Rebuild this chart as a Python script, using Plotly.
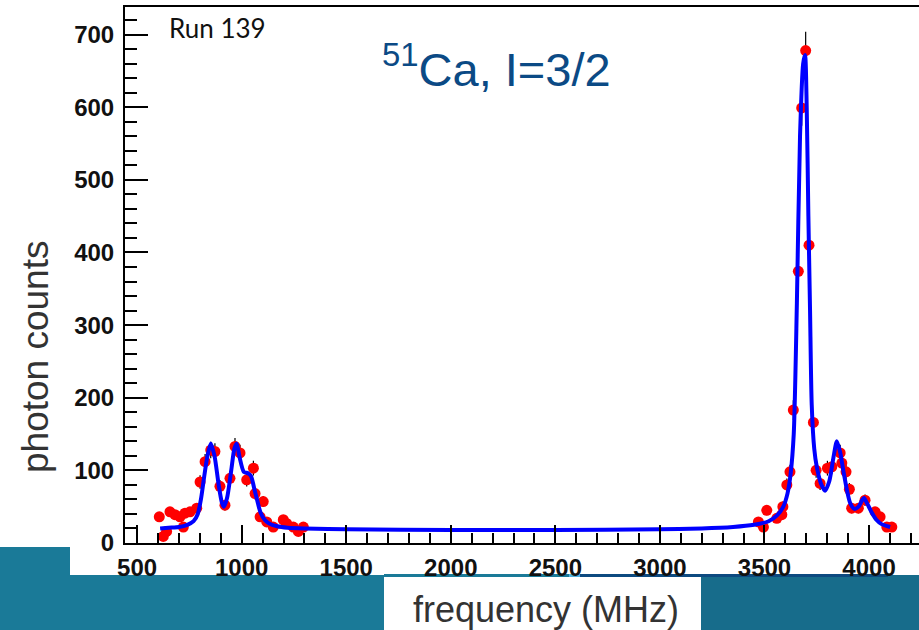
import numpy as np
import plotly.graph_objects as go

# measured data points (frequency MHz, photon counts)
freq_pts = [606, 625, 641, 657, 681, 705, 721, 729, 753, 785, 801, 825, 852, 872, 896, 920,
            944, 968, 992, 1024, 1056, 1064, 1088, 1103, 1120, 1151, 1199, 1215, 1247, 1271, 1295,
            3471, 3495, 3511, 3559, 3583, 3588, 3607, 3622, 3638, 3662, 3678, 3697, 3713, 3734,
            3747, 3766, 3801, 3822, 3862, 3870, 3890, 3906, 3917, 3949, 3981, 4029, 4053, 4085, 4109]
counts_pts = [36, 9, 16, 43, 39, 36, 22, 41, 43, 48, 84, 112, 128, 126, 78, 52,
              89, 133, 124, 87, 103, 68, 36, 57, 29, 22, 32, 27, 22, 16, 22,
              29, 22, 45, 34, 39, 50, 80, 98, 183, 374, 599, 678, 410, 166,
              100, 82, 103, 105, 124, 110, 98, 74, 48, 48, 59, 43, 36, 22, 22]

# fitted curve
freq_fit = [610, 650, 700, 740, 770, 790, 805, 820, 835, 852, 870, 890, 905, 915, 930, 950,
            965, 976, 990, 1010, 1030, 1045, 1060, 1075, 1090, 1110, 1130, 1170, 1220, 1300,
            1500, 2000, 2500, 3000, 3200, 3350, 3450, 3520, 3560, 3590, 3610, 3625, 3640, 3655,
            3670, 3685, 3694, 3702, 3710, 3718, 3726, 3738, 3750, 3770, 3790, 3810, 3830, 3846,
            3862, 3877, 3895, 3910, 3930, 3950, 3965, 3976, 3990, 4013, 4035, 4060, 4101]
counts_fit = [20, 21, 22, 25, 30, 40, 60, 90, 118, 137, 120, 80, 56, 50, 62, 100,
              130, 137, 118, 98, 96, 92, 75, 58, 42, 32, 27, 23, 21, 20,
              19, 18, 18, 19, 20, 22, 25, 30, 38, 50, 68, 95, 150, 330,
              560, 660, 672, 600, 450, 320, 190, 130, 105, 82, 72, 85, 118, 140,
              125, 100, 72, 55, 47, 50, 58, 62, 55, 42, 32, 26, 22]

x_ticks = [500, 1000, 1500, 2000, 2500, 3000, 3500, 4000]
y_ticks = [0, 100, 200, 300, 400, 500, 600, 700]

W, H = 919, 630
L, R, T, B = 125, 919, 7, 543  # plot area in pixels


def px(x):
    return (x - L) / (R - L)


def py(y):
    return (B - y) / (B - T)


fig = go.Figure()
fig.add_trace(go.Scatter(
    x=freq_pts, y=counts_pts, mode="markers",
    marker=dict(color="#ff0000", size=11),
    error_y=dict(type="data", array=list(np.sqrt(counts_pts)), color="black", thickness=1.2, width=0),
    showlegend=False))
fig.add_trace(go.Scatter(
    x=freq_fit, y=counts_fit, mode="lines",
    line=dict(color="#0000ff", width=4, shape="spline", smoothing=0.7),
    showlegend=False))

teal_l = "#1a7a98"
teal_r = "#176c8b"
shapes = [
    dict(x0=0, x1=70, y0=547, y1=630, color=teal_l),
    dict(x0=70, x1=384, y0=575, y1=630, color=teal_l),
    dict(x0=701, x1=919, y0=575, y1=630, color=teal_r),
    dict(x0=384, x1=569, y0=574, y1=577, color=teal_l),
    dict(x0=569, x1=580, y0=574, y1=577, color="#4fb0e0"),
    dict(x0=580, x1=888, y0=574, y1=577, color="#0d4a80"),
]
for s in shapes:
    fig.add_shape(type="rect", xref="paper", yref="paper",
                  x0=px(s["x0"]), x1=px(s["x1"]), y0=py(s["y1"]), y1=py(s["y0"]),
                  fillcolor=s["color"], line_width=0, layer="below")

fig.add_annotation(xref="paper", yref="paper", x=px(546), y=py(609), xanchor="center", yanchor="middle",
                   text="frequency (MHz)", showarrow=False,
                   font=dict(family="Arial, Liberation Sans", size=36, color="#333333"))
fig.add_annotation(xref="paper", yref="paper", x=px(35), y=py(357), xanchor="center", yanchor="middle",
                   text="photon counts", textangle=-90, showarrow=False,
                   font=dict(family="Arial, Liberation Sans", size=37, color="#333333"))
fig.add_annotation(xref="paper", yref="paper", x=px(167), y=py(28), xanchor="left", yanchor="middle",
                   text="Run 139", showarrow=False,
                   font=dict(family="Lato, Open Sans", size=26, color="#111111"))
fig.add_annotation(xref="paper", yref="paper", x=px(380), y=py(66), xanchor="left", yanchor="middle",
                   text="<sup>51</sup>Ca, I=3/2", showarrow=False,
                   font=dict(family="Arial, Liberation Sans", size=47, color="#0b4a85"))

axis_font = dict(family="Arial, Liberation Sans", size=24, color="#111111", weight="bold")
fig.update_xaxes(range=[442, 4239], tickvals=x_ticks, ticktext=[str(v) for v in x_ticks],
                 ticks="inside", ticklen=18, tickwidth=2, tickcolor="black",
                 minor=dict(dtick=100, tick0=0, ticks="inside", ticklen=10, tickwidth=2, tickcolor="black"),
                 showline=True, linecolor="black", linewidth=2, mirror=True,
                 showgrid=False, zeroline=False, tickfont=axis_font, ticklabelstandoff=2)
fig.update_yaxes(range=[0, 738], tickvals=y_ticks, ticktext=[str(v) for v in y_ticks],
                 ticks="inside", ticklen=23, tickwidth=2, tickcolor="black",
                 minor=dict(dtick=20, tick0=0, ticks="inside", ticklen=12, tickwidth=2, tickcolor="black"),
                 showline=True, linecolor="black", linewidth=2, mirror=False,
                 showgrid=False, zeroline=False, tickfont=axis_font, ticklabelstandoff=4)
fig.update_layout(width=W, height=H, margin=dict(l=L, r=W - R, t=T, b=H - B),
                  paper_bgcolor="white", plot_bgcolor="white")
fig.write_html("out.html")
